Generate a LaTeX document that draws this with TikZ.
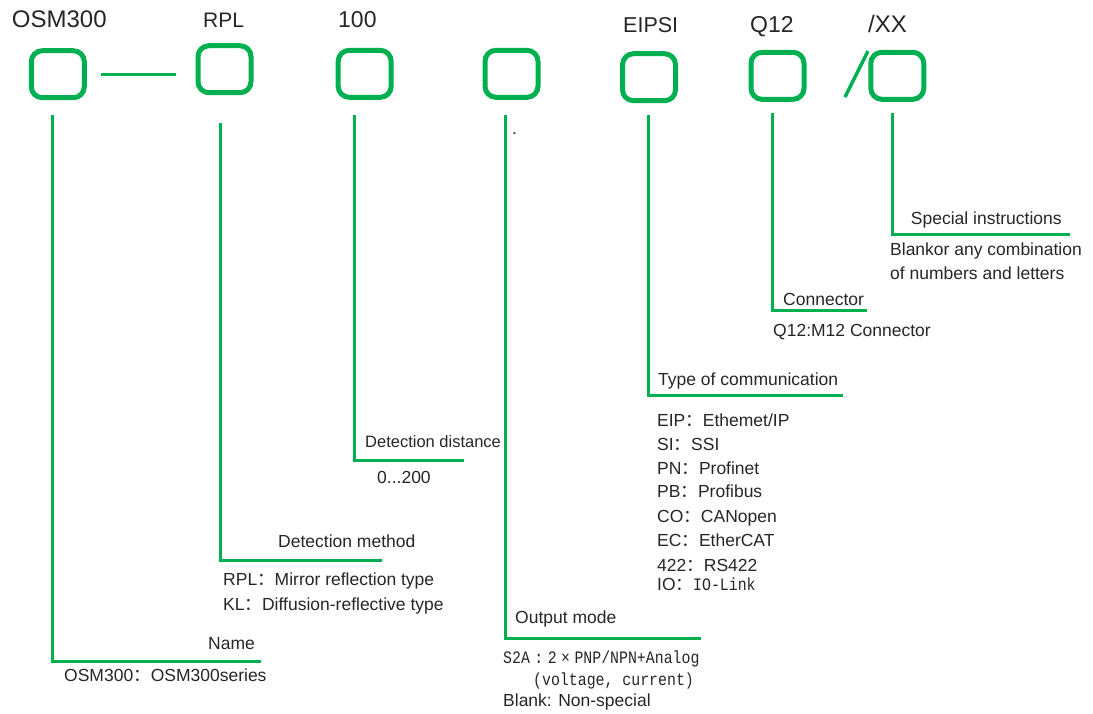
\documentclass[tikz,border=0pt]{standalone}
\usepackage{fontspec}
\setmainfont{Liberation Sans}
\newfontfamily\cjk{Noto Sans CJK SC}
\newfontfamily\monof[FakeStretch=0.85]{Liberation Mono}
\newcommand\fcolon{{\cjk ：}}
\definecolor{cgreen}{RGB}{0,176,80}
\definecolor{tcol}{RGB}{38,38,38}
\tikzset{
  codebox/.style={draw=cgreen, line width=5pt, rounded corners=11pt, minimum width=53pt, minimum height=47pt, inner sep=0pt},
  lead/.style={draw=cgreen, line width=3pt},
  txt/.style={anchor=base west, inner sep=0pt, text=tcol, font=\fontsize{17.5}{20}\selectfont},
  toplbl/.style={anchor=base west, inner sep=0pt, text=tcol},
  monotxt/.style={anchor=base west, inner sep=0pt, text=tcol, font=\monof\fontsize{17.5}{20}\selectfont},
}
\begin{document}
\begin{tikzpicture}[x=1pt,y=-1pt]
\useasboundingbox (0,0) rectangle (1093,713);
% top labels
\node[toplbl, font=\fontsize{24}{26}\selectfont] (l1) at (11.7,27.3) {OSM300};
\node[toplbl, font=\fontsize{21}{24}\selectfont] (l2) at (203,27.3) {RPL};
\node[toplbl, font=\fontsize{23}{25}\selectfont] (l3) at (338,27.3) {100};
\node[toplbl, font=\fontsize{21.5}{24}\selectfont] (l5) at (623,32.3) {EIPSI};
\node[toplbl, font=\fontsize{23}{25}\selectfont] (l6) at (750,32.3) {Q12};
\node[toplbl, font=\fontsize{24}{26}\selectfont] (l7) at (868,32.3) {/XX};
% boxes
\node[codebox] (b1) at (57.8,74.2) {};
\node[codebox] (b2) at (224.5,69.2) {};
\node[codebox] (b3) at (364.7,73.8) {};
\node[codebox] (b4) at (511.5,73.8) {};
\node[codebox] (b5) at (649,77.2) {};
\node[codebox] (b6) at (777.5,75.8) {};
\node[codebox] (b7) at (897.3,75.8) {};
% dash and slash
\coordinate (d1) at (101,74);
\coordinate (d2) at (176,74);
\draw[lead] (d1) -- (d2);
\coordinate (sl1) at (845,97);
\coordinate (sl2) at (868,51);
\draw[draw=cgreen, line width=3.5pt] (sl1) -- (sl2);
% leader start and end points
\coordinate (s1) at (52.7,115);   \coordinate (e1) at (260.7,661.7);
\coordinate (s2) at (220.5,123);  \coordinate (e2) at (381.7,560.7);
\coordinate (s3) at (354,115);    \coordinate (e3) at (464,460.5);
\coordinate (s4) at (505,115);    \coordinate (e4) at (700.7,638);
\coordinate (s5) at (648,115);    \coordinate (e5) at (843,395);
\coordinate (s6) at (772,113);    \coordinate (e6) at (866.7,310.7);
\coordinate (s7) at (892,113);    \coordinate (e7) at (1070,234);
\draw[lead] (s1) |- (e1);
\draw[lead] (s2) |- (e2);
\draw[lead] (s3) |- (e3);
\draw[lead] (s4) |- (e4);
\draw[lead] (s5) |- (e5);
\draw[lead] (s6) |- (e6);
\draw[lead] (s7) |- (e7);
% name
\node[txt] (n1) at (208,649) {Name};
\node[txt] (n2) at (64,681.7) {OSM300\fcolon OSM300series};
% detection method
\node[txt] (m1) at (278,547) {Detection method};
\node[txt] (m2) at (223,585) {RPL\fcolon Mirror reflection type};
\node[txt] (m3) at (223,610) {KL\fcolon Diffusion-reflective type};
% detection distance
\node[txt, font=\fontsize{16.5}{19}\selectfont] (dd1) at (365,447) {Detection distance};
\node[txt] (dd2) at (377,483) {0...200};
% output mode
\node[txt] (dot) at (512,134) {.};
\node[txt] (o1) at (515,623) {Output mode};
\node[monotxt] (o2) at (503,663) {S2A\makebox[17.8pt]{:}2\makebox[17.8pt]{×}PNP/NPN+Analog};
\node[monotxt] (o3) at (533,685) {(voltage, current)};
\node[txt] (o4) at (503,706.7) {Blank: Non-special};
% communication
\node[txt] (c0) at (658,385) {Type of communication};
\node[txt] (c1) at (657,426.7) {EIP\fcolon Ethemet/IP};
\node[txt] (c2) at (657,450.7) {SI\fcolon SSI};
\node[txt] (c3) at (657,474) {PN\fcolon Profinet};
\node[txt] (c4) at (657,497.7) {PB\fcolon Profibus};
\node[txt] (c5) at (657,522) {CO\fcolon CANopen};
\node[txt] (c6) at (657,546.7) {EC\fcolon EtherCAT};
\node[txt] (c7) at (657,571.7) {422\fcolon RS422};
\node[txt] (c8) at (657,590) {IO\fcolon{\monof\fontsize{17.5}{20}\selectfont IO-Link}};
% connector
\node[txt] (q1) at (783,305) {Connector};
\node[txt] (q2) at (773,336.7) {Q12:M12 Connector};
% special
\node[txt] (x1) at (910.7,224) {Special instructions};
\node[txt] (x2) at (890,255) {Blankor any combination};
\node[txt] (x3) at (890,279) {of numbers and letters};
\end{tikzpicture}
\end{document}
